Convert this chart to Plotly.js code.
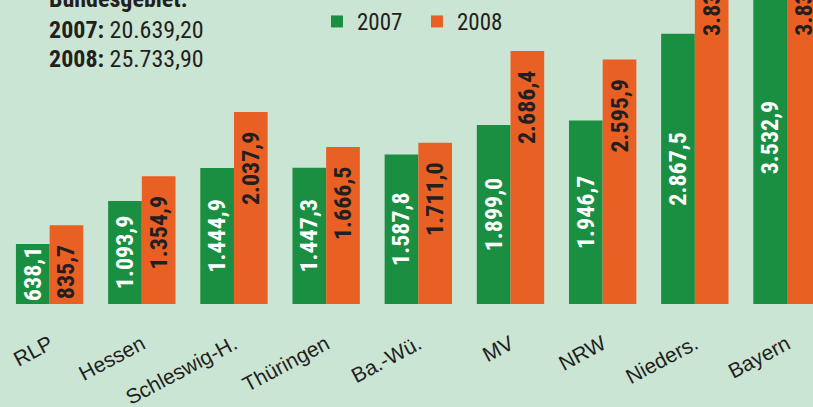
<!DOCTYPE html>
<html>
<head>
<meta charset="utf-8">
<script src="https://cdn.plot.ly/plotly-3.0.1.min.js"></script>
<style>html,body{margin:0;padding:0;background:#cbe5d4;}#chart{width:813px;height:407px;}</style>
</head>
<body>
<div id="chart"></div>
<script>
const categories = ['RLP','Hessen','Schleswig-H.','Thüringen','Ba.-Wü.','MV','NRW','Nieders.','Bayern'];
const values2007 = [638.1,1093.9,1444.9,1447.3,1587.8,1899.0,1946.7,2867.5,3532.9];
const values2008 = [835.7,1354.9,2037.9,1666.5,1711.0,2686.4,2595.9,3834.0,3836.0];
const seriesNames = ['2007','2008'];
const totalLabel = 'Bundesgebiet:';
const totals = ['20.639,20','25.733,90'];

const GREEN = '#1b8f41', ORANGE = '#e86024', BG = '#cbe5d4', DARK = '#231f20';
const COND = '"Roboto Condensed", Roboto, sans-serif';
const Y_MAX = 3227;
const NBSP = '\u00a0';

const barText = (color) => ({family:COND, size:24, color:color, weight:'bold'});
const common = {type:'bar', x:categories, textposition:'inside',
  textangle:-90, constraintext:'none', hoverinfo:'none'};

const traces = [
  Object.assign({}, common, {name:seriesNames[0], y:values2007,
    marker:{color:GREEN}, texttemplate:'%{y:,.1f}', insidetextanchor:'middle',
    insidetextfont:barText('#ffffff')}),
  Object.assign({}, common, {name:seriesNames[1], y:values2008,
    marker:{color:ORANGE}, texttemplate:'%{y:,.1f}' + NBSP + NBSP + NBSP, insidetextanchor:'end',
    insidetextfont:barText(DARK)})
];

const H = 304;
function py(p){ return 1 - p/H; }

const layout = {
  width:813, height:407,
  margin:{l:0, r:0, t:0, b:103, autoexpand:false},
  paper_bgcolor:BG, plot_bgcolor:BG,
  separators:',.',
  barmode:'group', bargap:0.269, bargroupgap:0,
  showlegend:true,
  legend:{orientation:'h', x:317/813, xanchor:'left', y:1, yanchor:'top',
    font:{family:COND, size:23, color:DARK}, entrywidth:55, entrywidthmode:'pixels',
    bgcolor:'rgba(0,0,0,0)', traceorder:'normal'},
  xaxis:{range:[-0.5386, 8.282], showgrid:false, zeroline:false, showline:false,
    tickangle:-28, ticks:'', ticklabelstandoff:23,
    tickfont:{family:'"Liberation Sans", Arial, sans-serif', size:21, color:DARK}},
  yaxis:{range:[0, Y_MAX], visible:false, showgrid:false, zeroline:false},
  annotations:[
    {xref:'paper', yref:'paper', x:47/813, xanchor:'left', y:py(-1), yanchor:'middle', showarrow:false,
     text:'<b>'+totalLabel+'</b>', font:{family:COND, size:24, color:DARK}},
    {xref:'paper', yref:'paper', x:47/813, xanchor:'left', y:py(30.5), yanchor:'middle', showarrow:false,
     text:'<b>'+seriesNames[0]+':</b> '+totals[0], font:{family:COND, size:24, color:DARK}},
    {xref:'paper', yref:'paper', x:47/813, xanchor:'left', y:py(58.8), yanchor:'middle', showarrow:false,
     text:'<b>'+seriesNames[1]+':</b> '+totals[1], font:{family:COND, size:24, color:DARK}}
  ]
};

Plotly.newPlot('chart', traces, layout, {displayModeBar:false, staticPlot:true});
</script>
</body>
</html>
